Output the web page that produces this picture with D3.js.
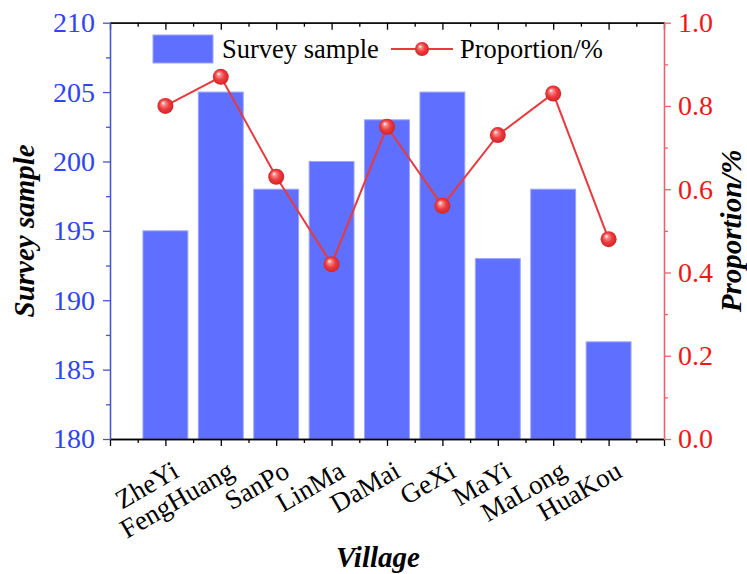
<!DOCTYPE html>
<html><head><meta charset="utf-8">
<script src="https://cdn.jsdelivr.net/npm/d3@7"></script>
<style>
html,body{margin:0;padding:0;background:#fff;}
svg{display:block;font-family:"Liberation Serif","Times New Roman",serif;}
</style></head>
<body><svg id="c" width="747" height="574"></svg>
<script>
const villages = ["ZheYi","FengHuang","SanPo","LinMa","DaMai","GeXi","MaYi","MaLong","HuaKou"];
const surveySample = [195,205,198,200,203,205,193,198,187];
const proportion = [0.80,0.87,0.63,0.42,0.75,0.56,0.73,0.83,0.48];
const leftTicks = [180,185,190,195,200,205,210];
const rightTicks = [0.0,0.2,0.4,0.6,0.8,1.0];

const svg = d3.select("#c");
const L = 110, R = 664, T = 22.7, B = 439;
const x = d3.scaleLinear().domain([0, villages.length + 1]).range([L, R]);
const yL = d3.scaleLinear().domain([180, 210]).range([B, T]);
const yR = d3.scaleLinear().domain([0, 1]).range([B, T]);

const blueTxt = "#2f44f2", blueAxis = "#4656c8", redTxt = "#ee1818", redAxis = "#f0606a";
const serif = "'Liberation Serif','Times New Roman',serif";

const defs = svg.append("defs");
const g = defs.append("radialGradient").attr("id","ball").attr("cx","50%").attr("cy","50%").attr("r","55%").attr("fx","35%").attr("fy","30%");
g.append("stop").attr("offset","0%").attr("stop-color","#ffffff");
g.append("stop").attr("offset","22%").attr("stop-color","#f58a8a");
g.append("stop").attr("offset","55%").attr("stop-color","#ee3c3e");
g.append("stop").attr("offset","100%").attr("stop-color","#cc2024");

// bars
const bw = x(0.81) - x(0);
svg.append("g").selectAll("rect").data(villages).join("rect")
  .attr("x", (d,i) => x(i+1) - bw/2)
  .attr("y", (d,i) => yL(surveySample[i]))
  .attr("width", bw)
  .attr("height", (d,i) => yL(180) - yL(surveySample[i]))
  .attr("fill", "#5f6fff").attr("stroke", "#9aa4ff").attr("stroke-width", 1);

function style(sel, lineColor, txtColor){
  sel.attr("font-family", serif);
  sel.selectAll("path").attr("stroke", lineColor).attr("stroke-width", 1.3);
  sel.selectAll("line").attr("stroke", lineColor).attr("stroke-width", 1.3);
  sel.selectAll("text").attr("fill", txtColor).style("font-size", "28px").style("font-family", serif);
}
const catTicks = d3.range(0, villages.length + 2);
const halfTicks = d3.range(0.5, villages.length + 1, 1);
[B, T].forEach(yy => {
  const a = svg.append("g").attr("transform", `translate(0,${yy})`);
  a.call(d3.axisBottom(x).tickValues(catTicks).tickSize(7).tickSizeOuter(0).tickFormat(""));
  style(a, "#000", "#000");
  const m = svg.append("g").attr("transform", `translate(0,${yy})`);
  m.call(d3.axisBottom(x).tickValues(halfTicks).tickSize(4).tickSizeOuter(0).tickFormat(""));
  style(m, "#000", "#000");
});

// category labels
svg.append("g").selectAll("text").data(villages).join("text")
  .attr("transform", (d,i) => `translate(${x(i+1)+15},${B+37}) rotate(-30)`)
  .attr("text-anchor","end").style("font-size","27px").style("font-family", serif).attr("fill","#000")
  .text(d => d);

// left axis
const gl = svg.append("g").attr("transform", `translate(${L},0)`);
gl.call(d3.axisLeft(yL).tickValues(leftTicks).tickSize(7).tickPadding(8).tickSizeOuter(0).tickFormat(d3.format("d")));
style(gl, blueAxis, blueTxt);
const glm = svg.append("g").attr("transform", `translate(${L},0)`);
glm.call(d3.axisLeft(yL).tickValues(d3.range(182.5, 210, 5)).tickSize(4).tickSizeOuter(0).tickFormat(""));
style(glm, blueAxis, blueTxt);

// right axis
const gr = svg.append("g").attr("transform", `translate(${R},0)`);
gr.call(d3.axisRight(yR).tickValues(rightTicks).tickSize(7).tickPadding(7).tickSizeOuter(0).tickFormat(d3.format(".1f")));
style(gr, redAxis, redTxt);
const grm = svg.append("g").attr("transform", `translate(${R},0)`);
grm.call(d3.axisRight(yR).tickValues([0.1,0.3,0.5,0.7,0.9]).tickSize(4).tickSizeOuter(0).tickFormat(""));
style(grm, redAxis, redTxt);

// line + markers
const line = d3.line().x((d,i) => x(i+1)).y(d => yR(d));
svg.append("path").datum(proportion).attr("d", line)
  .attr("fill","none").attr("stroke","#e8393d").attr("stroke-width", 2);
svg.append("g").selectAll("circle").data(proportion).join("circle")
  .attr("cx", (d,i) => x(i+1)).attr("cy", d => yR(d)).attr("r", 8)
  .attr("fill","url(#ball)");

// axis titles
function title(t){ return t.attr("text-anchor","middle").style("font-size","29px").style("font-family",serif)
  .attr("font-weight","bold").attr("font-style","italic").attr("fill","#000"); }
title(svg.append("text").attr("transform", `translate(34,${(T+B)/2}) rotate(-90)`)).text("Survey sample");
title(svg.append("text").attr("transform", `translate(741,${(T+B)/2}) rotate(-90)`)).text("Proportion/%");
title(svg.append("text").attr("x", 378).attr("y", 567)).text("Village");

// legend
const lg = svg.append("g");
lg.append("rect").attr("x",153).attr("y",35).attr("width",60).attr("height",28)
  .attr("fill","#5f6fff").attr("stroke","#9aa4ff");
lg.append("text").attr("x",222).attr("y",58).style("font-size","26.5px").style("font-family",serif).text("Survey sample");
lg.append("line").attr("x1",391).attr("x2",453).attr("y1",49).attr("y2",49)
  .attr("stroke","#e8393d").attr("stroke-width",2);
lg.append("circle").attr("cx",422).attr("cy",49).attr("r",7).attr("fill","url(#ball)");
lg.append("text").attr("x",460).attr("y",58).style("font-size","26.5px").style("font-family",serif).text("Proportion/%");
</script></body></html>
